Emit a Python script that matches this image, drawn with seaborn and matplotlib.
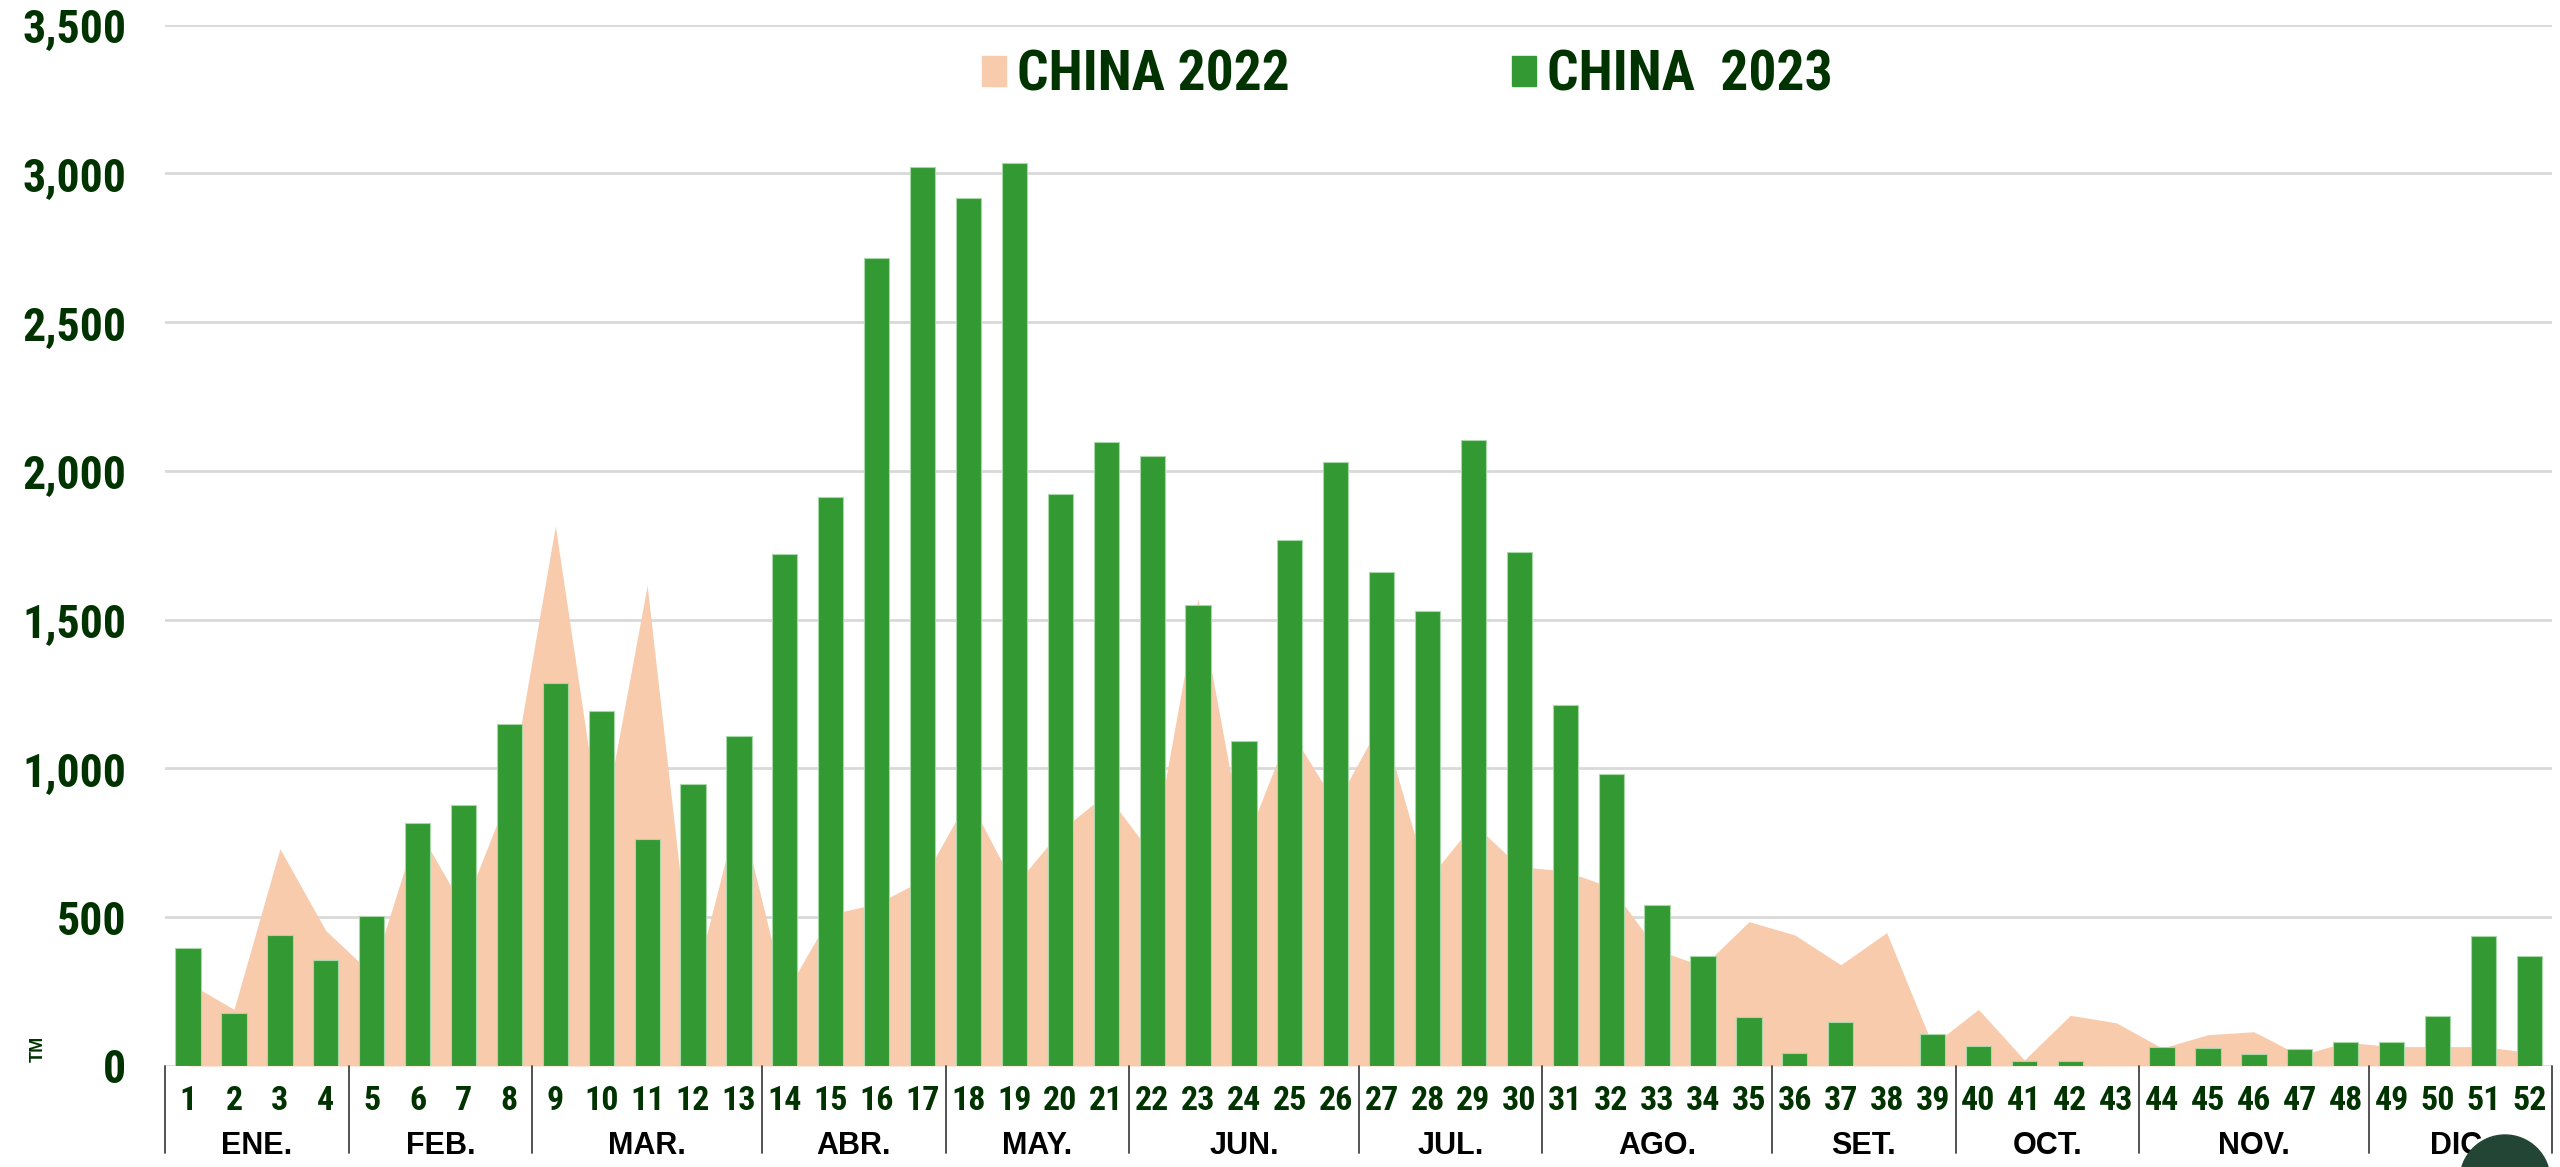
import matplotlib.pyplot as plt
import matplotlib.transforms as mtransforms
from matplotlib import font_manager as fm
from matplotlib.patches import Patch, Circle
import pandas as pd
import seaborn as sns

# weekly volumes (TM)
weeks = [str(w) for w in range(1, 53)]
china_2022 = [280, 190, 730, 455, 310, 800, 530, 920, 1815, 780,
              1615, 260, 870, 240, 510, 545, 625, 900, 605, 790,
              915, 710, 1570, 740, 1130, 880, 1160, 625, 815, 670,
              655, 600, 390, 335, 485, 440, 340, 448, 70, 190,
              20, 170, 145, 60, 105, 115, 35, 80, 65, 65,
              65, 45]
china_2023 = [395, 178, 440, 356, 503, 815, 878, 1150, 1287, 1192,
              764, 949, 1108, 1720, 1912, 2714, 3022, 2918, 3036, 1922,
              2098, 2049, 1549, 1091, 1767, 2029, 1659, 1530, 2105, 1727,
              1213, 980, 540, 368, 165, 43, 146, 0, 107, 66,
              18, 18, 0, 62, 59, 41, 57, 82, 80, 168,
              438, 371]
months = ["ENE.", "FEB.", "MAR.", "ABR.", "MAY.", "JUN.",
          "JUL.", "AGO.", "SET.", "OCT.", "NOV.", "DIC."]
month_weeks = [4, 4, 5, 4, 4, 5, 4, 5, 4, 4, 5, 4]
y_ticks = [0, 500, 1000, 1500, 2000, 2500, 3000, 3500]

AREA = '#f8cbad'
BAR = '#339933'
DARK = '#003300'


def _num(v, table, default):
    return table.get(v, default) if isinstance(v, str) else v


def pick_narrow_font():
    """Find a bold condensed sans face for the green labels."""
    cands = []
    for f in fm.fontManager.ttflist:
        weight = _num(f.weight, fm.weight_dict, 400)
        stretch = _num(f.stretch, fm.stretch_dict, 500)
        narrow = 'Narrow' in f.name or 'Condensed' in f.name or stretch < 500
        if weight >= 600 and narrow and f.style == 'normal':
            cands.append(f)
    if not cands:
        return 'Liberation Sans', 'normal', 0.88
    order = ['Liberation Sans Narrow', 'Arial Narrow', 'Roboto Condensed',
             'DejaVu Sans', 'Open Sans Condensed', 'Roboto', 'Open Sans']

    def rank(f):
        return order.index(f.name) if f.name in order else len(order)
    best = sorted(cands, key=rank)[0]
    return best.name, best.stretch, 1.0


family, stretch, k = pick_narrow_font()

sns.set_theme(style="white")
plt.rcParams['font.family'] = [family, 'Liberation Sans', 'DejaVu Sans']
plt.rcParams['font.stretch'] = stretch
plt.rcParams['font.weight'] = 'bold'

fig = plt.figure(figsize=(25.6, 11.67), dpi=100)
ax = fig.add_axes([0.0645, 0.0866, 0.9325, 0.8924])

df = pd.DataFrame({'week': weeks, 'c22': china_2022, 'c23': china_2023})

ax.fill_between(range(len(weeks)), df['c22'], color=AREA, lw=0, zorder=1)
sns.barplot(data=df, x='week', y='c23', color=BAR, width=0.55, saturation=1,
            edgecolor='#a8d8a8', linewidth=0.8, ax=ax, zorder=2)

ax.set_xlim(-0.5, len(weeks) - 0.5)
ax.set_ylim(0, 3500)
ax.set_yticks(y_ticks)
ax.set_yticklabels([f"{v:,}" for v in y_ticks])
ax.set_xlabel('')
ax.set_ylabel('')
ax.set_axisbelow(True)
ax.grid(axis='y', color='#d9d9d9', lw=2)
ax.grid(axis='x', visible=False)
for s in ax.spines.values():
    s.set_visible(False)

ax.tick_params(axis='y', length=0, pad=28, labelsize=33 * k, labelcolor=DARK)
ax.tick_params(axis='x', length=0, pad=14, labelsize=24.5 * k, labelcolor=DARK)
for lab in ax.get_xticklabels() + ax.get_yticklabels():
    lab.set_fontweight('bold')

# month groups under the week numbers (plain-width bold face, black)
trans = mtransforms.blended_transform_factory(ax.transData, ax.transAxes)
start = 0
bounds = [-0.5]
for m, n in zip(months, month_weeks):
    ax.text(start + (n - 1) / 2, -0.0845, m, transform=trans, ha='center',
            va='baseline', fontsize=22, color='black', fontweight='bold',
            family=['Liberation Sans', 'DejaVu Sans'], fontstretch='normal')
    start += n
    bounds.append(start - 0.5)
for b in bounds:
    ax.plot([b, b], [0, -0.0835], transform=trans, clip_on=False,
            color='#444444', lw=1.3)

handles = [Patch(color=AREA, label='CHINA 2022'),
           Patch(color=BAR, label='CHINA  2023')]
ax.legend(handles=handles, loc='center', bbox_to_anchor=(0.5205, 0.951), ncol=2,
          frameon=False, prop={'size': 40 * k, 'weight': 'bold'}, labelcolor=DARK,
          handlelength=0.43, handleheight=0.45, handletextpad=0.2,
          columnspacing=4.0)

fig.text(38 / 2560, 1 - 1049 / 1167, 'TM', rotation=90, fontsize=13,
         color=DARK, fontweight='bold', ha='center', va='center',
         family=['Liberation Sans', 'DejaVu Sans'], fontstretch='normal')

fig.add_artist(Circle((25.05, -0.13), 0.45, transform=fig.dpi_scale_trans,
                      color='#234536', zorder=5))

fig.savefig('out.png', dpi=100)
